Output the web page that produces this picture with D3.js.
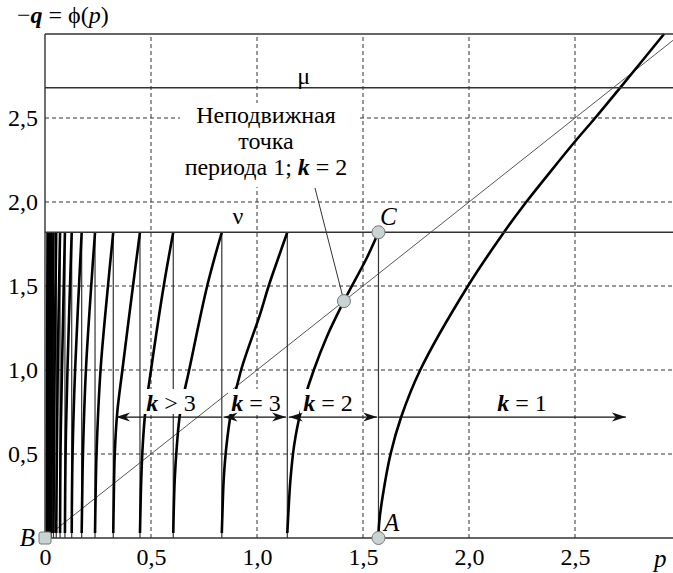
<!DOCTYPE html>
<html>
<head>
<meta charset="utf-8">
<script src="https://d3js.org/d3.v7.min.js"></script>
</head>
<body style="margin:0">
<svg id="chart" width="673" height="573"></svg>
<script>
// levels of the two horizontal lines
var nu = 1.82, mu = 2.68;

// tick values
var xTicks = [0, 0.5, 1.0, 1.5, 2.0, 2.5];
var yTicks = [0.5, 1.0, 1.5, 2.0, 2.5];

// left ends of the branches (thin verticals from 0 to nu)
var splitP = [1.573, 1.143, 0.834, 0.605, 0.448, 0.322, 0.236, 0.173, 0.126, 0.094,
              0.071, 0.053, 0.040, 0.030, 0.022, 0.016, 0.012];

// branches of -q = phi(p), points [p, q]
var branch1 = [[1.572, 0], [1.577, 0.1], [1.593, 0.25], [1.63, 0.5], [1.68, 0.72], [1.77, 1.0],
               [1.995, 1.5], [2.165, 1.82], [2.27, 2.0], [2.39, 2.19], [2.5, 2.36], [2.595, 2.5],
               [2.70, 2.66], [2.92, 3.0]];
var branch2 = [[1.143, 0.03], [1.148, 0.15], [1.158, 0.35], [1.175, 0.55], [1.206, 0.75], [1.268, 1.0],
               [1.33, 1.2], [1.41, 1.41], [1.517, 1.665], [1.573, 1.82]];
var branch3 = [[0.834, 0.03], [0.837, 0.15], [0.843, 0.35], [0.856, 0.55], [0.878, 0.75],
               [0.925, 1.0], [1.014, 1.33], [1.055, 1.5], [1.10, 1.665], [1.143, 1.82]];
var branch4 = [[0.605, 0.03], [0.607, 0.15], [0.612, 0.35], [0.622, 0.55], [0.638, 0.75], [0.680, 1.0],
               [0.765, 1.5], [0.834, 1.82]];
var branch5 = [[0.448, 0.03], [0.450, 0.15], [0.454, 0.35], [0.461, 0.55], [0.473, 0.75], [0.500, 1.0],
               [0.560, 1.5], [0.605, 1.82]];
var branch6 = [[0.322, 0.03], [0.324, 0.2], [0.329, 0.5], [0.341, 0.75], [0.365, 1.0], [0.415, 1.5], [0.448, 1.82]];
var branch7 = [[0.236, 0.03], [0.238, 0.2], [0.243, 0.5], [0.262, 1.0], [0.297, 1.5], [0.322, 1.82]];
var branch8 = [[0.173, 0.03], [0.175, 0.2], [0.179, 0.5], [0.193, 1.0], [0.218, 1.5], [0.236, 1.82]];
var branch9 = [[0.126, 0.03], [0.130, 0.5], [0.142, 1.0], [0.173, 1.82]];
var branch10 = [[0.094, 0.03], [0.097, 0.5], [0.106, 1.0], [0.126, 1.82]];
var branch11 = [[0.071, 0.03], [0.073, 0.5], [0.080, 1.0], [0.094, 1.82]];
var branchesTiny = [
  [[0.053, 0.03], [0.060, 1.0], [0.071, 1.82]],
  [[0.040, 0.03], [0.045, 1.0], [0.053, 1.82]],
  [[0.030, 0.03], [0.034, 1.0], [0.040, 1.82]],
  [[0.022, 0.03], [0.025, 1.0], [0.030, 1.82]],
  [[0.016, 0.03], [0.018, 1.0], [0.022, 1.82]],
  [[0.012, 0.03], [0.014, 1.0], [0.016, 1.82]],
  [[0.008, 0.03], [0.010, 1.0], [0.012, 1.82]]
];
var branches = [branch1, branch2, branch3, branch4, branch5, branch6, branch7, branch8,
                branch9, branch10, branch11].concat(branchesTiny);

// arrows at q = 0.72 showing the ranges of k
var arrowQ = 0.72;
var arrows = [
  {from: 0.834, to: 0.335, both: false},
  {from: 0.842, to: 1.137, both: true},
  {from: 1.150, to: 1.567, both: true},
  {from: 1.573, to: 2.74, both: false}
];
var arrowLabels = [
  {k: "k", rest: " > 3", p: 0.594},
  {k: "k", rest: " = 3", p: 0.995},
  {k: "k", rest: " = 2", p: 1.335},
  {k: "k", rest: " = 1", p: 2.25}
];

// marked points
var points = [
  {name: "B", p: 0, q: 0, square: true},
  {name: "A", p: 1.573, q: 0},
  {name: "C", p: 1.573, q: 1.82},
  {name: "", p: 1.41, q: 1.41}
];

var serif = "'Liberation Serif'";
var svg = d3.select("#chart");
var x = d3.scaleLinear().domain([0, 3]).range([45, 681]);
var y = d3.scaleLinear().domain([0, 3]).range([538, 34]);
var xRight = 673;
var fmt = function(d) { return d === 0 ? "0" : d3.format(".1f")(d).replace(".", ","); };

var defs = svg.append("defs");
defs.append("marker")
    .attr("id", "head")
    .attr("viewBox", "0 -5 14 10")
    .attr("refX", 14).attr("refY", 0)
    .attr("markerWidth", 14).attr("markerHeight", 10)
    .attr("markerUnits", "userSpaceOnUse")
    .attr("orient", "auto-start-reverse")
  .append("path")
    .attr("d", "M0,-4.5L14,0L0,4.5L4,0Z")
    .attr("fill", "#111");

// grid
var grid = svg.append("g").attr("stroke", "#333").attr("stroke-width", 1).attr("stroke-dasharray", "4,3");
grid.selectAll("line.v").data(xTicks.filter(function(d) { return d > 0; })).enter().append("line")
    .attr("x1", function(d) { return x(d); }).attr("x2", function(d) { return x(d); })
    .attr("y1", y(0)).attr("y2", y(3));
grid.selectAll("line.h").data(yTicks).enter().append("line")
    .attr("x1", x(0)).attr("x2", xRight)
    .attr("y1", function(d) { return y(d); }).attr("y2", function(d) { return y(d); });

// thin diagonal -q = p
svg.append("line")
    .attr("x1", x(0)).attr("y1", y(0))
    .attr("x2", x(3)).attr("y2", y(3))
    .attr("stroke", "#444").attr("stroke-width", 0.9);

// thin verticals
svg.append("g").selectAll("line").data(splitP).enter().append("line")
    .attr("x1", function(d) { return x(d); }).attr("x2", function(d) { return x(d); })
    .attr("y1", y(0)).attr("y2", y(nu))
    .attr("stroke", "#333").attr("stroke-width", 1.2);

// branches
var line = d3.line()
    .x(function(d) { return x(d[0]); })
    .y(function(d) { return y(d[1]); })
    .curve(d3.curveCatmullRom.alpha(0.5));
svg.append("g").selectAll("path").data(branches).enter().append("path")
    .attr("d", line)
    .attr("fill", "none")
    .attr("stroke", "#000")
    .attr("stroke-width", 2.6);

// nu, mu lines and frame
var frame = svg.append("g").attr("stroke", "#333").attr("stroke-width", 1.4);
[nu, mu, 3].forEach(function(v) {
  frame.append("line").attr("x1", x(0)).attr("x2", xRight).attr("y1", y(v)).attr("y2", y(v));
});
frame.append("line").attr("x1", x(0)).attr("x2", xRight).attr("y1", y(0)).attr("y2", y(0));
frame.append("line").attr("x1", x(0)).attr("x2", x(0)).attr("y1", y(0)).attr("y2", y(3));

// arrow labels with white backgrounds
var labs = svg.append("g").selectAll("g").data(arrowLabels).enter().append("g");
labs.append("rect")
    .attr("x", function(d) { return x(d.p) - 28; })
    .attr("y", 389).attr("width", 56).attr("height", 25)
    .attr("fill", "#fff");
var labText = labs.append("text")
    .attr("x", function(d) { return x(d.p); })
    .attr("y", 411)
    .attr("text-anchor", "middle")
    .attr("font-size", 24)
    .style("font-family", serif);
labText.append("tspan").attr("font-style", "italic").attr("font-weight", "bold").text(function(d) { return d.k; });
labText.append("tspan").text(function(d) { return d.rest; });

// arrows
svg.append("g").selectAll("line").data(arrows).enter().append("line")
    .attr("x1", function(d) { return x(d.from); }).attr("x2", function(d) { return x(d.to); })
    .attr("y1", y(arrowQ)).attr("y2", y(arrowQ))
    .attr("stroke", "#111").attr("stroke-width", 1.3)
    .attr("marker-end", "url(#head)")
    .attr("marker-start", function(d) { return d.both ? "url(#head)" : null; });

// fixed point annotation
var fp = points[3];
svg.append("line")
    .attr("x1", 315).attr("y1", 188)
    .attr("x2", x(fp.p)).attr("y2", y(fp.q))
    .attr("stroke", "#333").attr("stroke-width", 1);
svg.append("rect").attr("x", 180).attr("y", 103).attr("width", 177).attr("height", 84).attr("fill", "#fff");
var noteLines = ["Неподвижная", "точка"];
svg.selectAll("text.note").data(noteLines).enter().append("text")
    .attr("class", "note")
    .attr("x", 266).attr("y", function(d, i) { return 123 + i * 26; })
    .attr("text-anchor", "middle").attr("font-size", 24)
    .style("font-family", serif)
    .text(function(d) { return d; });
var l3 = svg.append("text").attr("x", 266).attr("y", 175)
    .attr("text-anchor", "middle").attr("font-size", 24).style("font-family", serif);
l3.append("tspan").text("периода 1; ");
l3.append("tspan").attr("font-style", "italic").attr("font-weight", "bold").text("k");
l3.append("tspan").text(" = 2");

// markers
var pts = svg.append("g").selectAll("g").data(points).enter().append("g")
    .attr("transform", function(d) { return "translate(" + x(d.p) + "," + y(d.q) + ")"; });
pts.filter(function(d) { return d.square; }).append("rect")
    .attr("x", -6).attr("y", -6).attr("width", 12).attr("height", 12).attr("rx", 2)
    .attr("fill", "#c9d3d3").attr("stroke", "#777");
pts.filter(function(d) { return !d.square; }).append("circle")
    .attr("r", 6.5)
    .attr("fill", "#c9d3d3").attr("stroke", "#777");

// point letters and line names
var letterData = [
  {t: "B", x: 35, y: 546, anchor: "end"},
  {t: "A", x: 384, y: 531, anchor: "start"},
  {t: "C", x: 380, y: 225, anchor: "start"},
  {t: "p", x: 654, y: 567, anchor: "start"}
];
svg.selectAll("text.letter").data(letterData).enter().append("text")
    .attr("class", "letter")
    .attr("x", function(d) { return d.x; }).attr("y", function(d) { return d.y; })
    .attr("text-anchor", function(d) { return d.anchor; })
    .attr("font-size", 25).attr("font-style", "italic")
    .style("font-family", serif)
    .text(function(d) { return d.t; });
svg.append("text").attr("x", x(1.22)).attr("y", 84).attr("font-size", 24).attr("text-anchor", "middle")
    .style("font-family", serif).text("μ");
svg.append("text").attr("x", x(0.91)).attr("y", 224).attr("font-size", 24).attr("text-anchor", "middle")
    .style("font-family", serif).text("ν");

// title
var title = svg.append("text").attr("x", 17).attr("y", 23).attr("font-size", 24).style("font-family", serif);
title.append("tspan").text("−");
title.append("tspan").attr("font-style", "italic").attr("font-weight", "bold").text("q");
title.append("tspan").text(" = ϕ(");
title.append("tspan").attr("font-style", "italic").text("p");
title.append("tspan").text(")");

// axes
var xAxis = svg.append("g").attr("transform", "translate(0," + y(0) + ")")
    .call(d3.axisBottom(x).tickValues(xTicks).tickFormat(fmt).tickSize(0).tickPadding(10));
var yAxis = svg.append("g").attr("transform", "translate(" + x(0) + ",0)")
    .call(d3.axisLeft(y).tickValues(yTicks).tickFormat(fmt).tickSize(0).tickPadding(7));
[xAxis, yAxis].forEach(function(a) {
  a.attr("font-family", null);
  a.select(".domain").remove();
  a.selectAll("text").attr("font-size", 24).attr("fill", "#000").style("font-family", serif);
});
</script>
</body>
</html>
